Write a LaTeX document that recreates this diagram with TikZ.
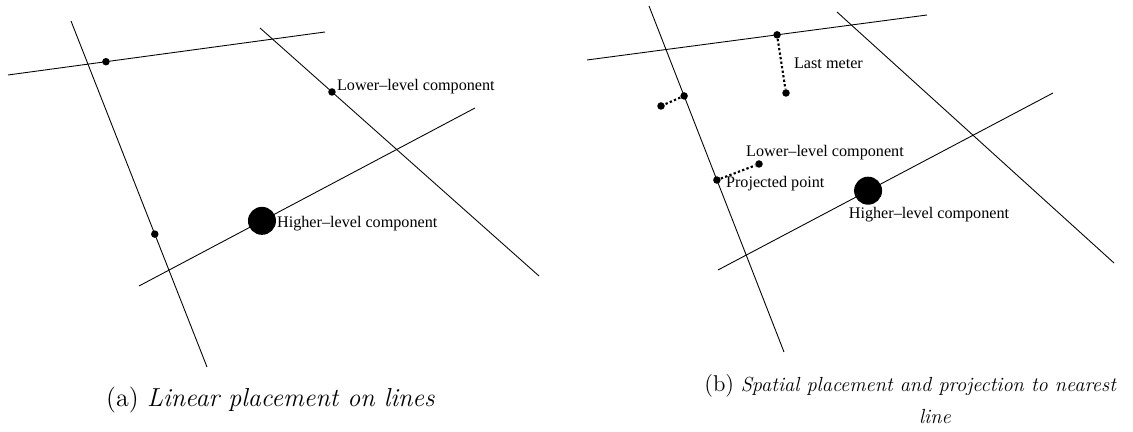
\documentclass[tikz,border=0pt]{standalone}
\usepackage{fontspec}
\newfontfamily\labelfont{Liberation Serif}
\usetikzlibrary{positioning}
\tikzset{
  roadline/.style  = {black, line width=0.5pt},
  lastmeter/.style = {black, line width=1.2pt, dash pattern=on 1.3pt off 1.3pt},
  meterdot/.style  = {circle, fill=black, inner sep=0pt, minimum size=0.15cm},
  compdot/.style   = {circle, fill=black, inner sep=0pt, minimum size=0.56cm},
  lbl/.style       = {font=\labelfont\fontsize{9.2}{11}\selectfont, inner sep=1pt},
  caplbl/.style    = {inner sep=0pt},
}

\begin{document}
\begin{tikzpicture}
  \useasboundingbox (0,0) rectangle (22.66,8.64);
  % (a) linear placement: every component sits on a line
  \coordinate (a-t1) at (0.16,7.14);  \coordinate (a-t2) at (6.50,8.00);
  \coordinate (a-s1) at (1.42,8.22);  \coordinate (a-s2) at (4.14,1.30);
  \coordinate (a-d1) at (5.20,8.08);  \coordinate (a-d2) at (10.78,3.12);
  \coordinate (a-l1) at (2.78,2.92);  \coordinate (a-l2) at (9.50,6.48);
  \draw[roadline] (a-t1) -- (a-t2) node[meterdot, pos=0.309] (a-top) {};
  \draw[roadline] (a-s1) -- (a-s2) node[meterdot, pos=0.616] (a-side) {};
  \draw[roadline] (a-d1) -- (a-d2) node[meterdot, pos=0.258] (a-low) {};
  \draw[roadline] (a-l1) -- (a-l2) node[compdot, pos=0.366] (a-high) {};
  \node[lbl, anchor=west] (a-lowlbl) at (6.70,6.90) {Lower–level component};
  \node[lbl, anchor=west] (a-highlbl) at (5.50,4.16) {Higher–level component};
  \node[caplbl, font=\fontsize{14.8}{17}\selectfont] (a-cap) at (5.41,0.64)
    {(a) \textit{Linear placement on lines}};

  % (b) spatial placement, then projection onto the nearest line
  \coordinate (b-t1) at (11.74,7.44); \coordinate (b-t2) at (18.54,8.34);
  \coordinate (b-s1) at (12.98,8.52); \coordinate (b-s2) at (15.68,1.60);
  \coordinate (b-d1) at (16.74,8.40); \coordinate (b-d2) at (22.28,3.38);
  \coordinate (b-l1) at (14.36,3.24); \coordinate (b-l2) at (21.06,6.78);
  \draw[roadline] (b-t1) -- (b-t2) node[meterdot, pos=0.559] (b-top) {};
  \draw[roadline] (b-s1) -- (b-s2) node[meterdot, pos=0.260] (b-side) {}
                                   node[meterdot, pos=0.503] (b-proj) {};
  \draw[roadline] (b-d1) -- (b-d2);
  \draw[roadline] (b-l1) -- (b-l2) node[compdot, pos=0.448] (b-high) {};
  \node[meterdot] (b-meter) at (15.72,6.78) {};
  \node[meterdot] (b-out) at (13.22,6.52) {};
  \node[meterdot] (b-low) at (15.18,5.36) {};
  \draw[lastmeter] (b-top) -- (b-meter);
  \draw[lastmeter] (b-side) -- (b-out);
  \draw[lastmeter] (b-proj) -- (b-low);
  \node[lbl, anchor=west] (b-meterlbl) at (15.84,7.38) {Last meter};
  \node[lbl] (b-lowlbl) at (16.50,5.58) {Lower–level component};
  \node[lbl, anchor=west] (b-projlbl) at (14.48,4.96) {Projected point};
  \node[lbl] (b-highlbl) at (18.58,4.34) {Higher–level component};
  \node[caplbl, align=center, font=\fontsize{11.6}{16}\selectfont] (b-cap) at (18.21,0.66)
    {{\fontsize{13}{16}\selectfont(b)} \textit{Spatial placement and projection to nearest}\\[2pt]
     \hspace*{2.4em}\textit{line}};
\end{tikzpicture}
\end{document}
